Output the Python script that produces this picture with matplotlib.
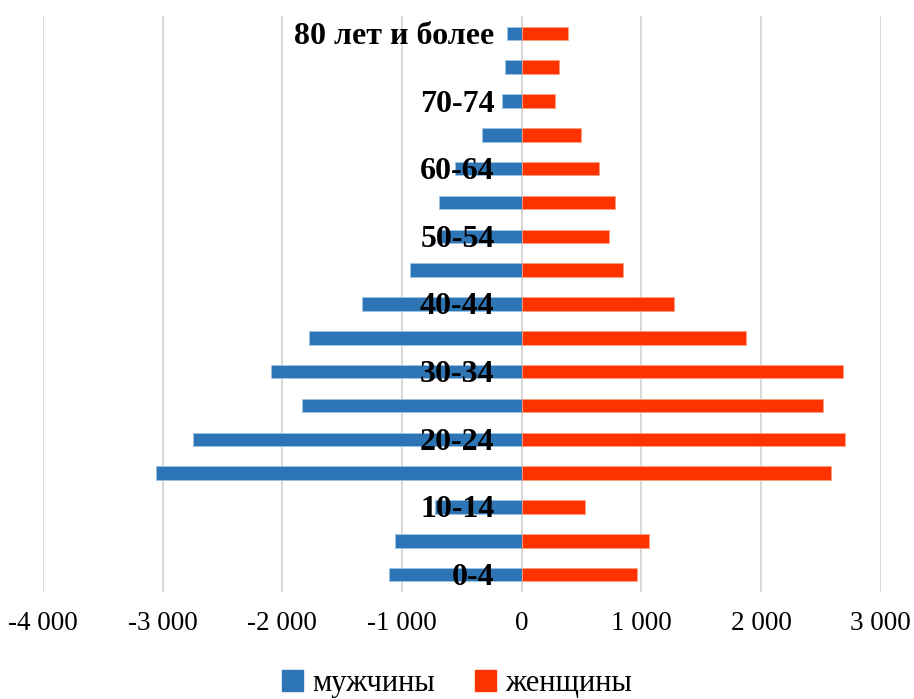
import numpy as np
import matplotlib
matplotlib.use("Agg")
import matplotlib.pyplot as plt
from matplotlib.ticker import FuncFormatter
from matplotlib.patches import Patch
from matplotlib.transforms import offset_copy

# ---- Data ---- #
ages = ["0-4", "5-9", "10-14", "15-19", "20-24", "25-29", "30-34", "35-39",
        "40-44", "45-49", "50-54", "55-59", "60-64", "65-69", "70-74", "75-79",
        "80 лет и более"]
men = [-1107, -1059, -724, -3059, -2743, -1836, -2092, -1780,
       -1338, -931, -710, -694, -557, -328, -163, -138, -124]
women = [965, 1062, 529, 2581, 2704, 2517, 2682, 1872,
         1269, 844, 727, 783, 649, 498, 275, 308, 387]
xticks = [-4000, -3000, -2000, -1000, 0, 1000, 2000, 3000]

blue = "#2E75B6"
red = "#FF3300"
serif = "Liberation Serif"

# ---- Figure ---- #
fig = plt.figure(figsize=(9.14, 6.99), dpi=100)
ax = fig.add_axes([0.047, 0.1537, 0.9166, 0.8228])

y = np.arange(len(ages))
ax.barh(y, men, height=0.4, color=blue, edgecolor="#9DC3E6", linewidth=0.6, zorder=2)
ax.barh(y, women, height=0.4, color=red, edgecolor="#FF9F80", linewidth=0.6, zorder=2)

ax.set_xlim(-4000, 3000)
ax.set_ylim(-0.5, len(ages) - 0.5)
ax.set_xticks(xticks)
ax.xaxis.set_major_formatter(FuncFormatter(lambda v, p: f"{int(v):,}".replace(",", " ")))
ax.tick_params(axis="x", length=0, pad=14, labelsize=19.5)
for lbl in ax.get_xticklabels():
    lbl.set_fontfamily(serif)

ax.grid(axis="x", color="#D9D9D9", linewidth=1.5, zorder=0)
ax.set_axisbelow(True)
for s in ax.spines.values():
    s.set_visible(False)

# category labels sit next to the zero line, every second one, on top of bars
ax.set_yticks([])
trans = offset_copy(ax.transData, fig=fig, x=-27, y=-3, units="dots")
for i in y[::2]:
    ax.text(0, i, ages[i], transform=trans, ha="right", va="center",
            fontfamily=serif, fontweight="bold", fontsize=23, zorder=5)

handles = [Patch(color=blue), Patch(color=red)]
fig.legend(handles, ["мужчины", "женщины"], loc="center", bbox_to_anchor=(0.5, 0.022),
           ncol=2, frameon=False, handlelength=0.7, handleheight=0.7,
           handletextpad=0.3, columnspacing=1.3, prop={"family": serif, "size": 22})

fig.savefig("out.png", dpi=100)
